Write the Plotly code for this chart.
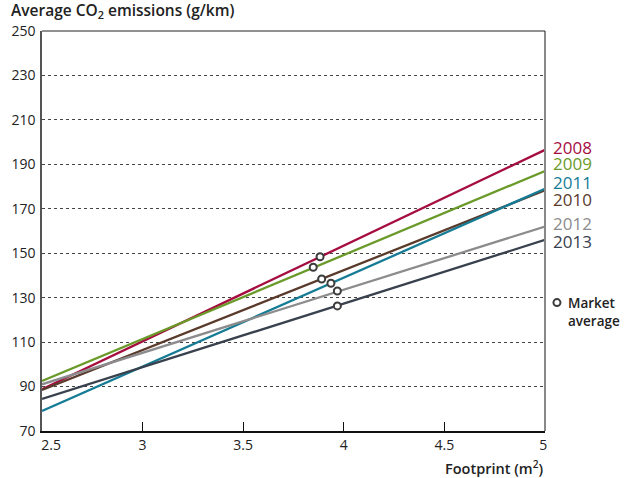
import plotly.graph_objects as go

years = ["2008", "2009", "2010", "2011", "2012", "2013"]
colors = ["#a50d3f", "#6a9a2a", "#5a3a2b", "#167c95", "#8c8b8d", "#38414d"]
x_ends = [2.5, 5.0]
y_start = [88.8, 92.5, 88.5, 79.0, 91.0, 84.4]
y_end = [196.5, 187.0, 178.3, 179.0, 162.0, 156.0]
avg_x = [3.882, 3.848, 3.890, 3.936, 3.968, 3.968]
avg_y = [148.4, 143.7, 138.4, 136.5, 133.0, 126.3]
label_y = [197.4, 190.2, 174.0, 182.0, 163.2, 155.5]
y_ticks = [70, 90, 110, 130, 150, 170, 190, 210, 230, 250]
x_ticks = [2.5, 3, 3.5, 4, 4.5, 5]
x_tick_text = ["\u00a0" * 5 + "2.5", "3", "3.5", "4", "4.5", "5\u00a0"]

FONT = "Open Sans"
fig = go.Figure()
for yr, c, y0, y1 in zip(years, colors, y_start, y_end):
    fig.add_trace(go.Scatter(x=x_ends, y=[y0, y1], mode="lines",
                             line=dict(color=c, width=2.3), name=yr,
                             showlegend=False, hoverinfo="skip"))
fig.add_trace(go.Scatter(x=avg_x, y=avg_y, mode="markers",
                         name=" ",
                         marker=dict(size=7, color="white",
                                     line=dict(color="#3c3c3c", width=2)),
                         showlegend=True, cliponaxis=False))

annotations = []
for yr, c, ly in zip(years, colors, label_y):
    annotations.append(dict(x=1.012, xref="paper", y=ly, yref="y",
                            text=yr, showarrow=False, xanchor="left",
                            yanchor="middle",
                            font=dict(family=FONT, size=17, color=c, weight=500)))
annotations.append(dict(x=1.042, xref="paper", y=123.6, yref="y",
                        text="Market<br>average", showarrow=False,
                        xanchor="left", yanchor="middle", align="left",
                        font=dict(family=FONT, size=13.5, color="#222", weight=600)))
annotations.append(dict(x=-0.066, xref="paper", y=1.05, yref="paper",
                        text="Average CO<sub>2</sub> emissions (g/km)",
                        showarrow=False, xanchor="left", yanchor="middle",
                        font=dict(family=FONT, size=15.5, color="#222", weight=600)))
annotations.append(dict(x=1.0, xref="paper", y=-0.09, yref="paper",
                        text="Footprint (m<sup>2</sup>)",
                        showarrow=False, xanchor="right", yanchor="middle",
                        font=dict(family=FONT, size=14.5, color="#222", weight=600)))

fig.update_layout(
    width=631, height=478,
    margin=dict(l=42, r=86, t=31, b=47, autoexpand=False),
    paper_bgcolor="white", plot_bgcolor="white",
    font=dict(family=FONT, size=14, color="#222"),
    annotations=annotations,
    showlegend=True,
    legend=dict(x=0.984, xanchor="left", y=0.32, yanchor="middle",
                bgcolor="rgba(0,0,0,0)", itemwidth=30, tracegroupgap=0,
                font=dict(family=FONT, size=14, color="#222")),
    shapes=[dict(type="line", xref="paper", yref="paper", x0=1, x1=1,
                 y0=0, y1=1, line=dict(color="#888", width=2)),
            dict(type="line", xref="paper", yref="paper", x0=0, x1=1,
                 y0=1, y1=1, line=dict(color="#222", width=1))],
    xaxis=dict(range=[2.5, 5], tickvals=x_ticks, ticktext=x_tick_text,
               showgrid=False, zeroline=False, showline=True,
               linecolor="#111", linewidth=1.5, ticks="inside",
               ticklen=9, tickcolor="#111", tickwidth=1.2,
               tickfont=dict(family=FONT, size=14, color="#222")),
    yaxis=dict(range=[70, 250], tickvals=y_ticks, showgrid=True,
               gridcolor="#444", griddash="dot", gridwidth=1,
               zeroline=False, showline=True, linecolor="#555",
               linewidth=1.5, ticks="", ticklabelstandoff=2,
               tickfont=dict(family=FONT, size=14, color="#222")),
)
fig.write_html("out.html", post_script="document.body.style.margin='0';",
               config={"displayModeBar": False})
